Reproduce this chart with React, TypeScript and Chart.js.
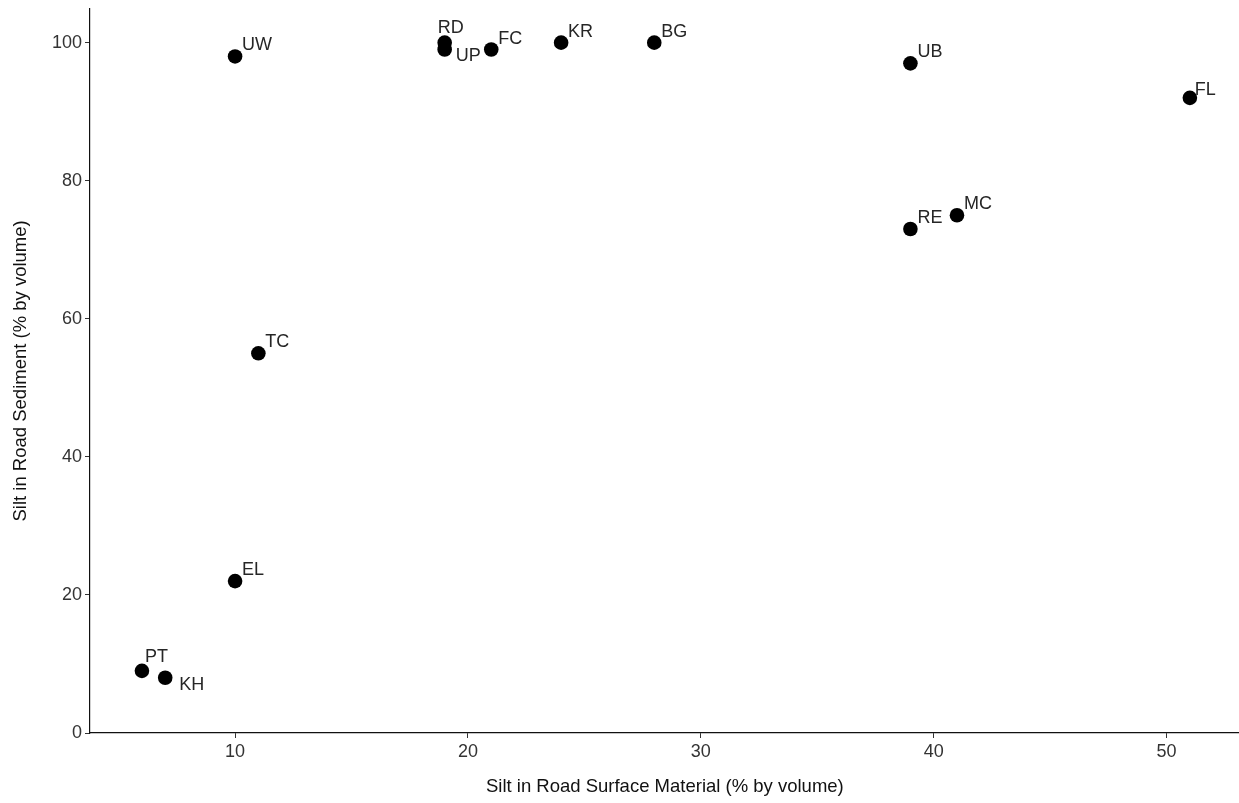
import React, { useEffect, useRef } from "react";
import { Chart, registerables } from "chart.js";

Chart.register(...registerables);

const siteLabels = ["UW", "RD", "UP", "FC", "KR", "BG", "UB", "FL", "MC", "RE", "TC", "EL", "PT", "KH"];
const surfaceSilt = [10, 19, 19, 21, 24, 28, 39, 51, 41, 39, 11, 10, 6, 7];
const sedimentSilt = [98, 100, 99, 99, 100, 100, 97, 92, 75, 73, 55, 22, 9, 8];
const xTicks = [10, 20, 30, 40, 50];
const yTicks = [0, 20, 40, 60, 80, 100];

// label placement (text left / vertical middle, relative to point centre), like ggrepel output
const labelOffsets: Record<string, [number, number]> = {
  RD: [-7, -15],
  UP: [11, 6],
  PT: [3, -14],
  KH: [14, 7],
  FL: [5, -8],
};
const defaultOffset: [number, number] = [7, -11];

const FONT = "'Liberation Sans', Arial, sans-serif";

const labelPlugin = {
  id: "pointLabels",
  afterDatasetsDraw(chart: any) {
    const ctx = chart.ctx;
    const meta = chart.getDatasetMeta(0);
    ctx.save();
    ctx.font = `18px ${FONT}`;
    ctx.fillStyle = "#262626";
    ctx.textAlign = "left";
    ctx.textBaseline = "middle";
    meta.data.forEach((el: any, i: number) => {
      const lab = siteLabels[i];
      const off = labelOffsets[lab] || defaultOffset;
      ctx.fillText(lab, el.x + off[0], el.y + off[1]);
    });
    ctx.restore();
  },
};

export default function App() {
  const ref = useRef<HTMLCanvasElement | null>(null);
  useEffect(() => {
    if (!ref.current) return;
    const chart = new Chart(ref.current, {
      type: "scatter",
      data: {
        datasets: [
          {
            data: surfaceSilt.map((x, i) => ({ x, y: sedimentSilt[i] })),
            backgroundColor: "#000",
            borderWidth: 0,
            pointRadius: 7.3,
            pointHoverRadius: 7.3,
          },
        ],
      },
      options: {
        responsive: false,
        animation: false,
        events: [],
        layout: { padding: { top: 8, right: 0, left: 0, bottom: 0 } },
        plugins: { legend: { display: false }, tooltip: { enabled: false } },
        scales: {
          x: {
            type: "linear",
            min: 3.77,
            max: 53.14,
            afterFit: (s: any) => {
              s.height = 70;
            },
            afterBuildTicks: (s: any) => {
              s.ticks = xTicks.map((v) => ({ value: v }));
            },
            grid: { display: true, drawOnChartArea: false, drawTicks: true, tickLength: 5, color: "#333", lineWidth: 1 },
            border: { display: true, color: "#111", width: 1.2 },
            ticks: { color: "#333", font: { family: FONT, size: 18 }, padding: 3, maxRotation: 0 },
            title: {
              display: true,
              text: "Silt in Road Surface Material (% by volume)",
              color: "#111",
              font: { family: FONT, size: 18.5 },
              padding: { top: 0, bottom: 5 },
            },
          },
          y: {
            type: "linear",
            min: 0,
            max: 104.9,
            afterFit: (s: any) => {
              s.width = 90;
            },
            afterBuildTicks: (s: any) => {
              s.ticks = yTicks.map((v) => ({ value: v }));
            },
            grid: { display: true, drawOnChartArea: false, drawTicks: true, tickLength: 5, color: "#333", lineWidth: 1 },
            border: { display: true, color: "#111", width: 1.2 },
            ticks: { color: "#333", font: { family: FONT, size: 18 }, padding: 3 },
            title: {
              display: true,
              text: "Silt in Road Sediment (% by volume)",
              color: "#111",
              font: { family: FONT, size: 18.5 },
              padding: { top: 10, bottom: 0 },
            },
          },
        },
      },
      plugins: [labelPlugin],
    });
    return () => chart.destroy();
  }, []);
  return (
    <div style={{ position: "absolute", left: 0, top: 0, width: 1239, height: 803, overflow: "hidden", background: "#fff" }}>
      <canvas
        ref={ref}
        width={1247}
        height={808}
        style={{ display: "block", position: "absolute", left: 0, top: -5 }}
      />
    </div>
  );
}
